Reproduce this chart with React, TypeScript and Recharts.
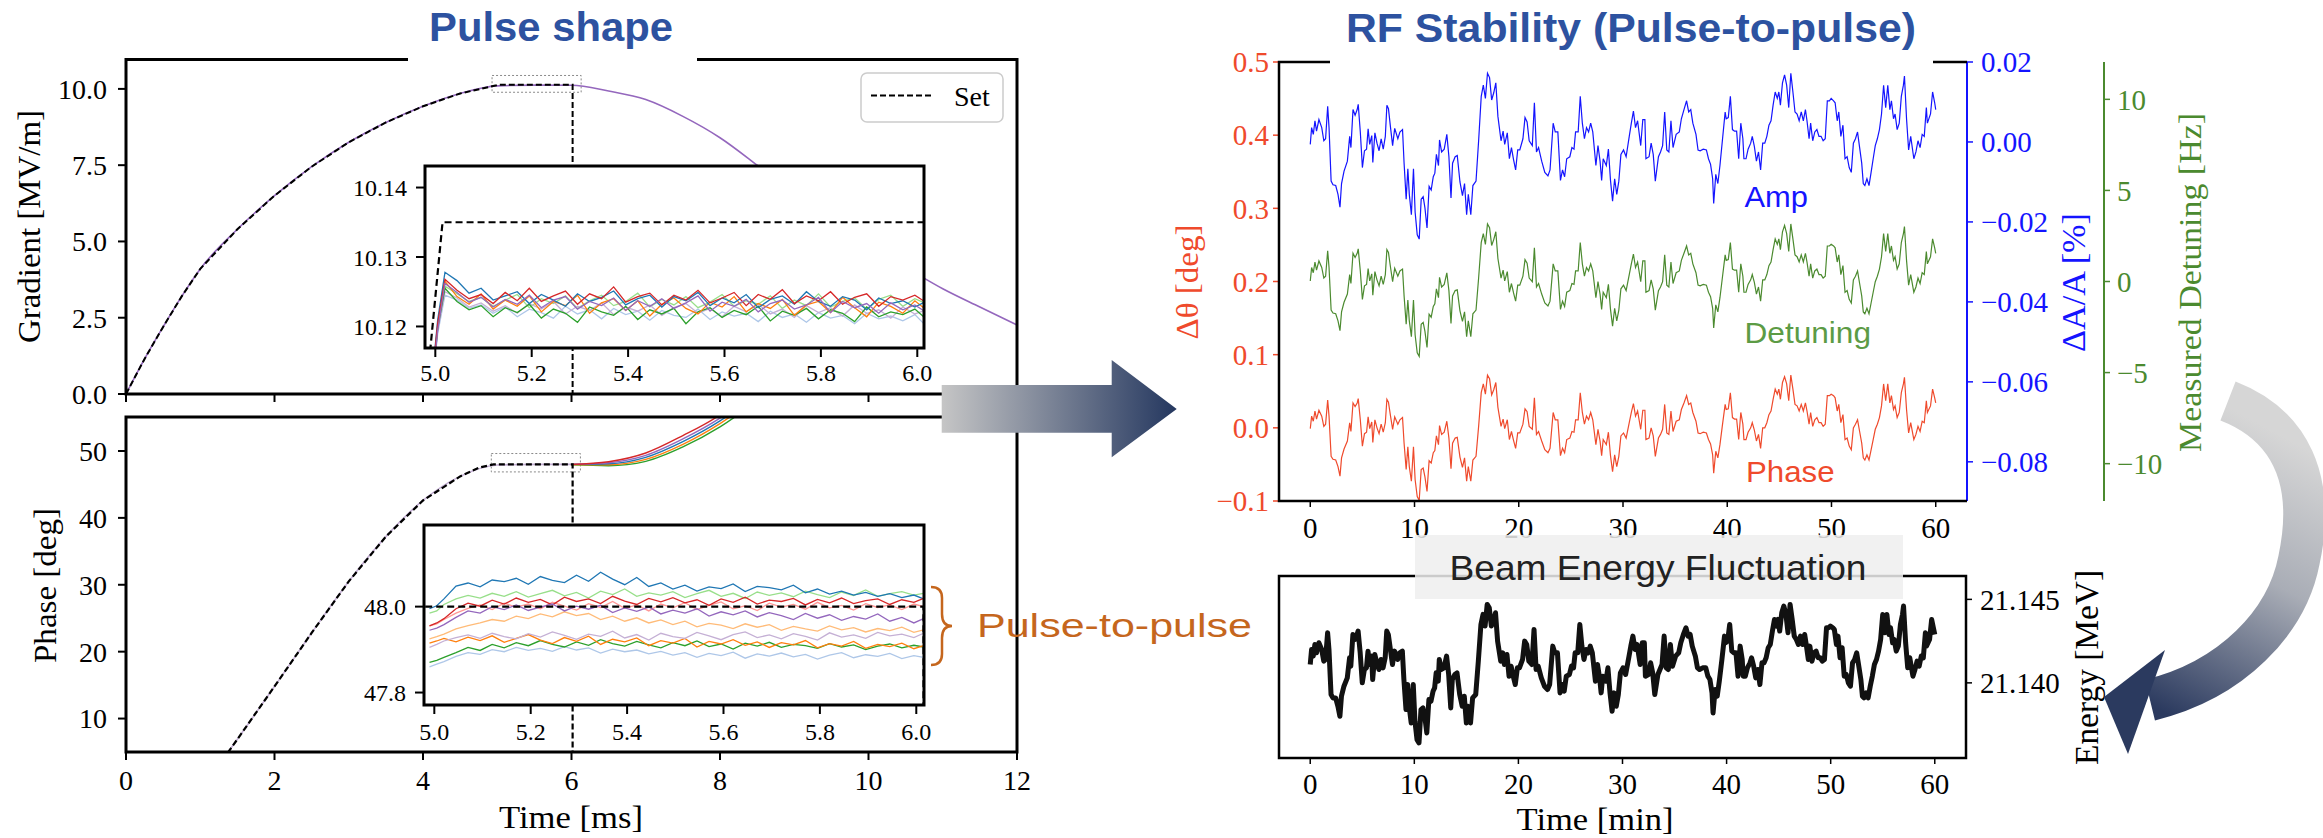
import React from "react";
import { LineChart, Line, XAxis, YAxis, ReferenceArea, CartesianGrid } from "recharts";

const SERIF = "'Liberation Serif', 'Times New Roman', serif";
const SANS = "'Liberation Sans', Arial, sans-serif";

// ---------- Pulse shape: main panels (time in ms) ----------
const msTicks = [0, 2, 4, 6, 8, 10, 12];
const gradTicks = [0, 2.5, 5, 7.5, 10];
const phaseTicks = [10, 20, 30, 40, 50];

const gradTime = [0, 0.25, 0.5, 0.75, 1, 1.5, 2, 2.5, 3, 3.5, 4, 4.5, 5, 5.5, 6, 6.5, 7, 7.5, 8, 8.5, 9, 9.5, 10, 10.5, 11, 11.5, 12];
const gradMeasured = [0, 1.15, 2.2, 3.2, 4.1, 5.4, 6.5, 7.45, 8.25, 8.9, 9.43, 9.85, 10.1, 10.123, 10.122, 9.93, 9.65, 9.1, 8.4, 7.5, 6.55, 5.65, 4.85, 4.15, 3.45, 2.85, 2.26];
const gradSetTime = [0, 0.25, 0.5, 0.75, 1, 1.5, 2, 2.5, 3, 3.5, 4, 4.5, 4.99, 5.015, 6.015, 6.015];
const gradSet = [0, 1.15, 2.2, 3.2, 4.1, 5.4, 6.5, 7.45, 8.25, 8.9, 9.43, 9.85, 10.117, 10.135, 10.135, 0];

const phaseTime = [1.3, 1.5, 2, 2.5, 3, 3.5, 4, 4.5, 5, 5.5, 6];
const phaseMeasured = [3.8, 6.9, 14.8, 22.8, 30.5, 37.2, 42.6, 46.2, 47.9, 48.0, 48.0];
const phaseSetTime = [1.3, 1.5, 2, 2.5, 3, 3.5, 4, 4.5, 4.75, 4.95, 6.015, 6.015];
const phaseSet = [3.8, 6.9, 14.8, 22.8, 30.5, 37.2, 42.6, 46.2, 47.5, 48.0, 48.0, 0];
const tailTime = [6, 6.5, 7, 7.5, 8, 8.5];
const tailRed = [48.0, 48.4, 49.7, 52.3, 55.4, 60];
const tailPurple = [48.0, 48.25, 49.35, 51.8, 54.9, 59];
const tailBlue = [48.0, 48.1, 49.05, 51.4, 54.5, 58.5];
const tailOrange = [47.97, 47.95, 48.75, 51.0, 54.1, 58];
const tailGreen = [47.92, 47.8, 48.45, 50.6, 53.6, 57.5];

// ---------- insets (5.0 - 6.0 ms) ----------
const insetTicks = [5.0, 5.2, 5.4, 5.6, 5.8, 6.0];
const insetTime = [4.99, 5.005, 5.02, 5.045, 5.07, 5.095, 5.12, 5.145, 5.17, 5.195,
  5.22, 5.245, 5.27, 5.295, 5.32, 5.345, 5.37, 5.395, 5.42, 5.445,
  5.47, 5.495, 5.52, 5.545, 5.57, 5.595, 5.62, 5.645, 5.67, 5.695,
  5.72, 5.745, 5.77, 5.795, 5.82, 5.845, 5.87, 5.895, 5.92, 5.945,
  5.97, 5.995, 6.015];

const gLightBlue = [10.109, 10.119, 10.1245, 10.1238, 10.1226, 10.1231, 10.1219, 10.1228, 10.1214, 10.1225,
  10.122, 10.1212, 10.1229, 10.1218, 10.1224, 10.1211, 10.1226, 10.1217, 10.1222, 10.1209,
  10.1223, 10.1216, 10.1213, 10.1225, 10.121, 10.1221, 10.1215, 10.1219, 10.1207, 10.1222,
  10.1213, 10.1218, 10.1206, 10.122, 10.1212, 10.1216, 10.1204, 10.1219, 10.1211, 10.1215,
  10.1208, 10.1217, 10.1203];
const gLightGreen = [10.11, 10.12, 10.1258, 10.1247, 10.1236, 10.1242, 10.1229, 10.1238, 10.1246, 10.1227,
  10.124, 10.1233, 10.1244, 10.1226, 10.1237, 10.1245, 10.123, 10.1236, 10.1248, 10.1228,
  10.1239, 10.1231, 10.1243, 10.1227, 10.1235, 10.1246, 10.1229, 10.1237, 10.1232, 10.1244,
  10.1226, 10.1238, 10.123, 10.1247, 10.1228, 10.1236, 10.1241, 10.1225, 10.1239, 10.1245,
  10.1229, 10.124, 10.1234];
const gLightPurple = [10.11, 10.1195, 10.125, 10.1241, 10.1228, 10.1234, 10.1222, 10.123, 10.1219, 10.1233,
  10.1225, 10.1236, 10.1218, 10.1229, 10.1223, 10.1234, 10.1217, 10.1228, 10.1222, 10.1231,
  10.1216, 10.1227, 10.1233, 10.1219, 10.1226, 10.1214, 10.1229, 10.1221, 10.1232, 10.1218,
  10.1225, 10.1213, 10.123, 10.122, 10.1227, 10.1215, 10.1231, 10.1219, 10.1224, 10.1212,
  10.1228, 10.1218, 10.1223];
const gGreen = [10.109, 10.1198, 10.1255, 10.1236, 10.1224, 10.123, 10.1214, 10.1227, 10.122, 10.1232,
  10.1212, 10.1225, 10.1219, 10.1206, 10.1228, 10.1221, 10.1216, 10.1229, 10.121, 10.1224,
  10.1218, 10.1226, 10.1204, 10.1221, 10.1227, 10.1213, 10.1223, 10.1217, 10.1229, 10.1208,
  10.1222, 10.1216, 10.1226, 10.1211, 10.1224, 10.1219, 10.1207, 10.1228, 10.1214, 10.1221,
  10.1217, 10.1225, 10.1213];
const gOrange = [10.11, 10.12, 10.1265, 10.1243, 10.1232, 10.1247, 10.1225, 10.1238, 10.1229, 10.1244,
  10.1221, 10.1236, 10.123, 10.1245, 10.1219, 10.1234, 10.124, 10.1223, 10.1237, 10.1215,
  10.1232, 10.1241, 10.1226, 10.1218, 10.1235, 10.1228, 10.1243, 10.1221, 10.1233, 10.1226,
  10.1239, 10.1216, 10.1231, 10.1236, 10.122, 10.1242, 10.1227, 10.1214, 10.1235, 10.1229,
  10.1219, 10.1237, 10.1226];
const gBlue = [10.11, 10.121, 10.1278, 10.1266, 10.1248, 10.1255, 10.1238, 10.1244, 10.125, 10.1233,
  10.1246, 10.1238, 10.1229, 10.1247, 10.1236, 10.1242, 10.1251, 10.1231, 10.124, 10.1245,
  10.1228, 10.1243, 10.1237, 10.1249, 10.123, 10.1241, 10.1234, 10.1246, 10.1227, 10.1239,
  10.1244, 10.1232, 10.125, 10.1236, 10.1229, 10.1243, 10.1238, 10.1224, 10.1241, 10.1233,
  10.1237, 10.1228, 10.1235];
const gRed = [10.11, 10.1205, 10.1268, 10.1252, 10.124, 10.1246, 10.1233, 10.1249, 10.1237, 10.1255,
  10.1236, 10.1244, 10.1251, 10.1232, 10.1247, 10.124, 10.1257, 10.1235, 10.1243, 10.1248,
  10.1231, 10.1245, 10.1238, 10.1252, 10.1234, 10.1241, 10.1249, 10.123, 10.1246, 10.1239,
  10.1253, 10.1233, 10.1244, 10.1237, 10.125, 10.1232, 10.1242, 10.1247, 10.1229, 10.1243,
  10.1238, 10.1245, 10.1236];
const gPurple = [10.109, 10.1195, 10.1262, 10.1249, 10.1235, 10.1242, 10.1228, 10.1239, 10.1232, 10.1245,
  10.1227, 10.1238, 10.1243, 10.1225, 10.1236, 10.123, 10.1241, 10.1223, 10.1237, 10.1229,
  10.124, 10.1226, 10.1234, 10.1244, 10.1222, 10.1235, 10.1229, 10.1239, 10.1221, 10.1233,
  10.1238, 10.1225, 10.1231, 10.1242, 10.122, 10.1236, 10.1227, 10.1233, 10.1219, 10.1234,
  10.1224, 10.1231, 10.1222];

const pBlue = [47.995, 48.002, 48.018, 48.048, 48.055, 48.046, 48.062, 48.058, 48.066, 48.052,
  48.07, 48.061, 48.056, 48.073, 48.059, 48.08, 48.064, 48.051, 48.068, 48.047,
  48.055, 48.041, 48.05, 48.036, 48.046, 48.042, 48.053, 48.035, 48.047, 48.044,
  48.039, 48.05, 48.032, 48.041, 48.029, 48.036, 48.027, 48.033, 48.024, 48.03,
  48.021, 48.027, 48.018];
const pLightGreen = [47.985, 47.99, 48.005, 48.018, 48.026, 48.02, 48.031, 48.024, 48.035, 48.022,
  48.03, 48.038, 48.025, 48.033, 48.02, 48.036, 48.028, 48.041, 48.024, 48.032,
  48.027, 48.035, 48.021, 48.03, 48.038, 48.024, 48.031, 48.019, 48.034, 48.026,
  48.032, 48.023, 48.036, 48.028, 48.021, 48.034, 48.026, 48.039, 48.024, 48.03,
  48.035, 48.027, 48.031];
const pRed = [47.955, 47.962, 47.972, 47.995, 48.008, 48.001, 48.015, 48.006, 48.02, 48.01,
  48.017, 48.004, 48.022, 48.012, 48.018, 48.007, 48.024, 48.013, 48.005, 48.019,
  48.011, 48.021, 48.009, 48.016, 48.003, 48.018, 48.01, 48.022, 48.006, 48.015,
  48.012, 48.019, 48.004, 48.017, 48.009, 48.02, 48.007, 48.014, 48.018, 48.005,
  48.016, 48.01, 48.019];
const pPink = [47.955, 47.96, 47.97, 47.985, 47.996, 48.004, 47.993, 48.008, 47.999, 48.006,
  47.995, 48.01, 48.001, 47.992, 48.007, 47.998, 48.012, 47.996, 48.004, 47.99,
  48.006, 47.997, 48.009, 47.993, 48.003, 48.011, 47.995, 48.002, 47.991, 48.008,
  47.999, 48.005, 47.994, 48.01, 47.997, 48.003, 47.992, 48.007, 47.998, 48.004,
  47.993, 48.006, 48.0];
const pPurple = [47.945, 47.95, 47.958, 47.975, 47.99, 47.985, 48.0, 47.993, 48.004, 47.991,
  47.999, 48.006, 47.99, 48.001, 47.994, 48.003, 47.986, 47.997, 47.989, 47.999,
  47.983, 47.992, 47.985, 47.995, 47.978, 47.988, 47.981, 47.99, 47.976, 47.986,
  47.979, 47.97, 47.984, 47.973, 47.981, 47.968, 47.977, 47.971, 47.983, 47.966,
  47.975, 47.962, 47.972];
const pLightOrange = [47.925, 47.93, 47.936, 47.948, 47.956, 47.962, 47.97, 47.966, 47.978, 47.972,
  47.983, 47.976, 47.988, 47.979, 47.984, 47.97, 47.978, 47.966, 47.974, 47.962,
  47.969, 47.958, 47.966, 47.953, 47.961, 47.957, 47.949, 47.96, 47.952, 47.958,
  47.945, 47.954, 47.948, 47.943, 47.955, 47.946, 47.951, 47.941, 47.949, 47.944,
  47.952, 47.94, 47.946];
const pLightPurple = [47.905, 47.912, 47.92, 47.928, 47.934, 47.926, 47.938, 47.93, 47.925, 47.937,
  47.929, 47.941, 47.933, 47.924, 47.936, 47.931, 47.943, 47.927, 47.935, 47.922,
  47.938, 47.93, 47.926, 47.94, 47.932, 47.923, 47.935, 47.941, 47.928, 47.934,
  47.925, 47.937, 47.931, 47.922, 47.939, 47.929, 47.934, 47.926, 47.94, 47.932,
  47.936, 47.928, 47.938];
const pOrange = [47.915, 47.92, 47.926, 47.918, 47.929, 47.921, 47.932, 47.917, 47.926, 47.935,
  47.922, 47.914, 47.928, 47.919, 47.931, 47.912, 47.924, 47.918, 47.927, 47.909,
  47.921, 47.915, 47.926, 47.906, 47.919, 47.913, 47.923, 47.91, 47.918, 47.905,
  47.916, 47.911, 47.921, 47.904, 47.914, 47.908, 47.919, 47.903, 47.912, 47.907,
  47.915, 47.902, 47.909];
const pGreen = [47.87, 47.875, 47.882, 47.893, 47.905, 47.898, 47.912, 47.904, 47.916, 47.909,
  47.921, 47.912, 47.906, 47.918, 47.91, 47.923, 47.914, 47.908, 47.919, 47.911,
  47.904, 47.916, 47.909, 47.92, 47.907, 47.913, 47.901, 47.915, 47.908, 47.917,
  47.905, 47.912, 47.909, 47.903, 47.914, 47.906, 47.911, 47.9, 47.908, 47.913,
  47.904, 47.91, 47.906];
const pLightBlue = [47.86, 47.866, 47.872, 47.884, 47.893, 47.889, 47.9, 47.895, 47.905, 47.898,
  47.903, 47.896, 47.907, 47.899, 47.904, 47.892, 47.901, 47.895, 47.899, 47.89,
  47.896, 47.887, 47.893, 47.882, 47.891, 47.886, 47.894, 47.88, 47.89, 47.885,
  47.892, 47.883, 47.889, 47.878, 47.887, 47.893, 47.881, 47.888, 47.884, 47.891,
  47.879, 47.886, 47.882];

// ---------- RF stability (time in min) ----------
const minTicks = [0, 10, 20, 30, 40, 50, 60];
const dthetaTicks = [-0.1, 0, 0.1, 0.2, 0.3, 0.4, 0.5];
const ampTicks = [-0.08, -0.06, -0.04, -0.02, 0, 0.02];
const detTicks = [-10, -5, 0, 5, 10];
const energyTicks = [21.14, 21.145];

const rfTime = [0, 0.13, 0.29, 0.45, 0.6, 0.83, 1.1, 1.3, 1.47, 1.67,
  1.8, 2.0, 2.18, 2.44, 2.66, 2.85, 3.0, 3.24, 3.56, 3.78,
  3.9, 4.1, 4.3, 4.5, 4.6, 4.8, 5.0, 5.2, 5.4, 5.55,
  5.7, 5.9, 6.0, 6.2, 6.4, 6.6, 6.8, 7.0, 7.2, 7.35,
  7.5, 7.7, 7.9, 8.1, 8.4, 8.6, 8.85, 9.0, 9.2, 9.36,
  9.5, 9.7, 9.9, 10.06, 10.26, 10.45, 10.64, 10.83, 11.0, 11.2,
  11.4, 11.6, 11.8, 11.95, 12.1, 12.3, 12.4, 12.6, 12.85, 13.1,
  13.3, 13.5, 13.65, 13.9, 14.1, 14.36, 14.6, 14.8, 15.0, 15.16,
  15.4, 15.6, 15.9, 16.15, 16.4, 16.6, 16.8, 17.0, 17.2, 17.4,
  17.6, 17.8, 18.0, 18.3, 18.5, 18.65, 18.9, 19.1, 19.3, 19.5,
  19.7, 19.9, 20.1, 20.4, 20.6, 20.8, 21.0, 21.3, 21.5, 21.7,
  21.9, 22.2, 22.5, 22.8, 23.0, 23.3, 23.5, 23.75, 24.0, 24.2,
  24.4, 24.6, 24.9, 25.1, 25.3, 25.45, 25.7, 25.9, 26.1, 26.3,
  26.5, 26.7, 26.9, 27.1, 27.4, 27.6, 27.8, 27.95, 28.1, 28.4,
  28.6, 28.8, 29.0, 29.2, 29.4, 29.6, 29.8, 30.05, 30.3, 30.6,
  30.8, 31.0, 31.2, 31.4, 31.7, 31.9, 32.1, 32.2, 32.5, 32.7,
  32.9, 33.1, 33.4, 33.6, 33.8, 34.0, 34.2, 34.4, 34.6, 34.8,
  35.1, 35.4, 35.6, 35.85, 36.1, 36.3, 36.5, 36.7, 37.0, 37.2,
  37.4, 37.7, 38.0, 38.2, 38.4, 38.6, 38.7, 38.9, 39.1, 39.3,
  39.55, 39.8, 39.9, 40.1, 40.3, 40.5, 40.7, 40.9, 41.1, 41.3,
  41.5, 41.6, 41.8, 42.0, 42.25, 42.4, 42.6, 42.8, 43.0, 43.2,
  43.4, 43.6, 43.8, 44.0, 44.2, 44.4, 44.6, 44.8, 44.95, 45.1,
  45.3, 45.5, 45.7, 45.9, 46.1, 46.3, 46.5, 46.7, 46.9, 47.1,
  47.3, 47.5, 47.65, 47.85, 48.0, 48.2, 48.4, 48.6, 48.8, 49.0,
  49.2, 49.4, 49.6, 49.8, 49.97, 50.2, 50.35, 50.55, 50.7, 50.9,
  51.1, 51.3, 51.5, 51.7, 51.9, 52.1, 52.3, 52.5, 52.7, 52.9,
  53.05, 53.2, 53.4, 53.6, 53.8, 54.0, 54.2, 54.4, 54.6, 54.8,
  55.0, 55.2, 55.4, 55.6, 55.75, 55.95, 56.1, 56.3, 56.5, 56.7,
  56.9, 57.0, 57.2, 57.4, 57.6, 57.9, 58.1, 58.3, 58.5, 58.7,
  58.9, 59.1, 59.2, 59.5, 59.7, 59.9, 60.0];

const rfPhase = [-0.001, 0.016, 0.009, 0.023, 0.012, 0.024, 0.016, 0.002, 0.005, 0.038,
  0.016, -0.039, -0.043, -0.044, -0.053, -0.066, -0.041, -0.029, -0.018, 0.007,
  -0.005, 0.034, 0.029, 0.034, 0.04, 0.011, -0.025, -0.008, -0.006, 0.015,
  -0.001, 0.008, -0.02, 0.011, 0.0, -0.008, 0.005, -0.006, 0.007, 0.039,
  0.035, 0.016, -0.002, 0.015, 0.005, 0.011, 0.014, -0.021, -0.057, -0.026,
  -0.053, -0.073, -0.026, -0.071, -0.094, -0.099, -0.057, -0.055, -0.067, -0.087,
  -0.045, -0.048, -0.034, -0.031, -0.011, -0.023, 0.003, -0.009, -0.006, 0.009,
  -0.014, -0.056, -0.021, -0.014, -0.013, -0.04, -0.054, -0.041, -0.073, -0.053,
  -0.073, -0.044, -0.039, 0.002, 0.048, 0.06, 0.046, 0.072, 0.067, 0.045,
  0.052, 0.062, 0.028, 0.002, 0.012, -0.001, 0.011, -0.016, -0.005, -0.017,
  -0.028, -0.007, -0.007, 0.005, 0.026, 0.022, 0.002, -0.002, 0.041, -0.009,
  -0.005, -0.018, -0.03, -0.034, -0.028, 0.021, 0.011, 0.011, -0.038, -0.028,
  -0.034, -0.016, -0.014, -0.005, -0.006, 0.011, 0.011, 0.048, 0.021, 0.005,
  0.016, 0.011, 0.021, 0.011, -0.023, -0.002, -0.018, -0.038, -0.016, -0.023,
  -0.006, -0.038, -0.06, -0.037, -0.053, -0.039, -0.011, -0.007, -0.014, 0.007,
  0.021, 0.033, 0.016, 0.023, -0.002, 0.024, 0.024, -0.016, -0.014, 0.0,
  -0.011, -0.039, -0.014, -0.009, -0.002, 0.032, -0.007, -0.009, 0.023, -0.005,
  0.009, 0.011, 0.025, 0.034, 0.044, 0.032, 0.034, 0.021, 0.009, -0.007,
  -0.008, -0.006, -0.007, -0.016, -0.022, -0.037, -0.062, -0.032, -0.041, -0.023,
  0.005, 0.032, 0.025, 0.026, 0.048, 0.014, 0.012, 0.012, -0.016, 0.021,
  0.005, -0.016, -0.016, -0.006, 0.0, 0.007, -0.003, -0.018, -0.009, -0.028,
  0.0, 0.0, 0.007, 0.018, 0.023, 0.039, 0.053, 0.046, 0.053, 0.039,
  0.062, 0.07, 0.06, 0.037, 0.072, 0.053, 0.032, 0.03, 0.023, 0.032,
  0.023, 0.034, 0.023, 0.005, 0.021, 0.002, 0.011, 0.014, 0.007, 0.007,
  0.002, 0.005, 0.044, 0.044, 0.046, 0.044, 0.041, 0.023, 0.032, 0.007,
  0.018, -0.016, -0.014, -0.025, -0.03, 0.0, 0.005, 0.011, -0.005, -0.021,
  -0.041, -0.044, -0.037, -0.044, -0.03, -0.016, -0.002, 0.005, 0.014, 0.03,
  0.06, 0.037, 0.06, 0.034, 0.044, 0.025, 0.03, 0.014, 0.021, 0.048,
  0.06, 0.069, 0.025, -0.007, 0.007, -0.016, -0.009, 0.002, -0.005, 0.009,
  0.007, 0.037, 0.021, 0.03, 0.053, 0.041, 0.034];

const rfAmp = [-0.0006, 0.0036, 0.0019, 0.0053, 0.0027, 0.0056, 0.0036, 0.0003, 0.0008, 0.0089,
  0.0036, -0.0098, -0.0107, -0.0109, -0.0131, -0.0163, -0.0104, -0.0073, -0.0048, 0.0014,
  -0.0014, 0.0081, 0.0067, 0.0081, 0.0094, 0.0025, -0.0064, -0.0022, -0.0018, 0.0033,
  -0.0006, 0.0016, -0.0051, 0.0023, -0.0003, -0.0022, 0.0008, -0.0018, 0.0014, 0.0092,
  0.0083, 0.0036, -0.0009, 0.0034, 0.0008, 0.0025, 0.0031, -0.0053, -0.0143, -0.0067,
  -0.0131, -0.0182, -0.0067, -0.0176, -0.0232, -0.0243, -0.0143, -0.0137, -0.0165, -0.0215,
  -0.0111, -0.012, -0.0087, -0.0078, -0.0031, -0.0059, 0.0005, -0.0025, -0.0018, 0.0019,
  -0.0037, -0.014, -0.0053, -0.0037, -0.0034, -0.01, -0.0134, -0.0104, -0.0182, -0.0131,
  -0.0182, -0.0109, -0.0098, 0.0003, 0.0114, 0.0142, 0.0109, 0.0172, 0.0161, 0.0105,
  0.0123, 0.0148, 0.0064, 0.0003, 0.0027, -0.0006, 0.0023, -0.0042, -0.0014, -0.0044,
  -0.007, -0.002, -0.002, 0.0008, 0.0061, 0.005, 0.0003, -0.0009, 0.0098, -0.0025,
  -0.0014, -0.0048, -0.0076, -0.0085, -0.007, 0.0047, 0.0025, 0.0025, -0.0096, -0.007,
  -0.0087, -0.0042, -0.0037, -0.0014, -0.0018, 0.0025, 0.0025, 0.0114, 0.0047, 0.0008,
  0.0036, 0.0025, 0.0047, 0.0025, -0.0059, -0.0009, -0.0048, -0.0096, -0.0042, -0.0059,
  -0.0018, -0.0096, -0.0148, -0.0092, -0.0131, -0.0098, -0.0031, -0.002, -0.0037, 0.0014,
  0.0047, 0.0077, 0.0036, 0.0053, -0.0009, 0.0056, 0.0056, -0.0042, -0.0037, -0.0003,
  -0.0031, -0.0098, -0.0037, -0.0025, -0.0009, 0.0075, -0.002, -0.0025, 0.0053, -0.0014,
  0.0019, 0.0025, 0.0058, 0.0081, 0.0103, 0.0075, 0.0081, 0.0047, 0.0019, -0.002,
  -0.0022, -0.0018, -0.002, -0.0042, -0.0056, -0.0092, -0.0154, -0.0081, -0.0104, -0.0059,
  0.0008, 0.0075, 0.0058, 0.0061, 0.0114, 0.0031, 0.0027, 0.0027, -0.0042, 0.0047,
  0.0008, -0.0042, -0.0042, -0.0018, -0.0003, 0.0014, -0.0011, -0.0048, -0.0025, -0.007,
  -0.0003, -0.0003, 0.0014, 0.0042, 0.0053, 0.0092, 0.0125, 0.0109, 0.0125, 0.0092,
  0.0148, 0.0168, 0.0142, 0.0086, 0.0172, 0.0125, 0.0075, 0.007, 0.0053, 0.0075,
  0.0053, 0.0081, 0.0053, 0.0008, 0.0047, 0.0003, 0.0025, 0.0031, 0.0014, 0.0014,
  0.0003, 0.0008, 0.0103, 0.0103, 0.0109, 0.0103, 0.0098, 0.0053, 0.0075, 0.0014,
  0.0042, -0.0042, -0.0037, -0.0064, -0.0076, -0.0003, 0.0008, 0.0025, -0.0014, -0.0053,
  -0.0104, -0.0109, -0.0092, -0.0109, -0.0076, -0.0042, -0.0009, 0.0008, 0.0031, 0.007,
  0.0142, 0.0086, 0.0142, 0.0081, 0.0103, 0.0058, 0.007, 0.0031, 0.0047, 0.0114,
  0.0142, 0.0165, 0.0058, -0.002, 0.0014, -0.0042, -0.0025, 0.0003, -0.0014, 0.0019,
  0.0014, 0.0086, 0.0047, 0.007, 0.0125, 0.0098, 0.0081];

const rfDetuning = [0.03, 0.77, 0.48, 1.07, 0.62, 1.13, 0.77, 0.19, 0.29, 1.69,
  0.77, -1.57, -1.73, -1.77, -2.16, -2.7, -1.67, -1.14, -0.69, 0.38,
  -0.11, 1.55, 1.32, 1.55, 1.79, 0.58, -0.98, -0.24, -0.16, 0.71,
  0.03, 0.42, -0.75, 0.54, 0.09, -0.24, 0.29, -0.16, 0.38, 1.75,
  1.59, 0.77, -0.01, 0.73, 0.29, 0.58, 0.68, -0.79, -2.35, -1.02,
  -2.16, -3.03, -1.02, -2.94, -3.91, -4.11, -2.35, -2.25, -2.74, -3.62,
  -1.8, -1.96, -1.37, -1.22, -0.4, -0.89, 0.23, -0.3, -0.16, 0.48,
  -0.5, -2.31, -0.79, -0.5, -0.46, -1.61, -2.19, -1.67, -3.03, -2.16,
  -3.03, -1.77, -1.57, 0.19, 2.14, 2.63, 2.04, 3.16, 2.96, 1.98,
  2.3, 2.73, 1.26, 0.19, 0.62, 0.03, 0.54, -0.59, -0.11, -0.63,
  -1.08, -0.2, -0.2, 0.29, 1.2, 1.01, 0.19, -0.01, 1.85, -0.3,
  -0.11, -0.69, -1.18, -1.34, -1.08, 0.97, 0.58, 0.58, -1.53, -1.08,
  -1.37, -0.59, -0.5, -0.11, -0.16, 0.58, 0.58, 2.14, 0.97, 0.29,
  0.77, 0.58, 0.97, 0.58, -0.89, -0.01, -0.69, -1.53, -0.59, -0.89,
  -0.16, -1.53, -2.45, -1.47, -2.16, -1.57, -0.4, -0.2, -0.5, 0.38,
  0.97, 1.5, 0.77, 1.07, -0.01, 1.13, 1.13, -0.59, -0.5, 0.09,
  -0.4, -1.57, -0.5, -0.3, -0.01, 1.46, -0.2, -0.3, 1.07, -0.11,
  0.48, 0.58, 1.16, 1.55, 1.95, 1.46, 1.55, 0.97, 0.48, -0.2,
  -0.24, -0.16, -0.2, -0.59, -0.83, -1.47, -2.55, -1.28, -1.67, -0.89,
  0.29, 1.46, 1.16, 1.2, 2.14, 0.68, 0.62, 0.62, -0.59, 0.97,
  0.29, -0.59, -0.59, -0.16, 0.09, 0.38, -0.05, -0.69, -0.3, -1.08,
  0.09, 0.09, 0.38, 0.87, 1.07, 1.75, 2.34, 2.04, 2.34, 1.75,
  2.73, 3.08, 2.63, 1.65, 3.16, 2.34, 1.46, 1.36, 1.07, 1.46,
  1.07, 1.55, 1.07, 0.29, 0.97, 0.19, 0.58, 0.68, 0.38, 0.38,
  0.19, 0.29, 1.95, 1.95, 2.04, 1.95, 1.85, 1.07, 1.46, 0.38,
  0.87, -0.59, -0.5, -0.98, -1.18, 0.09, 0.29, 0.58, -0.11, -0.79,
  -1.67, -1.77, -1.47, -1.77, -1.18, -0.59, -0.01, 0.29, 0.68, 1.36,
  2.63, 1.65, 2.63, 1.55, 1.95, 1.16, 1.36, 0.68, 0.97, 2.14,
  2.63, 3.02, 1.16, -0.2, 0.38, -0.59, -0.3, 0.19, -0.11, 0.48,
  0.38, 1.65, 0.97, 1.36, 2.34, 1.85, 1.55];

const beamEnergy = [21.1411, 21.142, 21.1416, 21.1423, 21.1418, 21.1424, 21.142, 21.1413, 21.1414, 21.143,
  21.142, 21.1393, 21.1391, 21.1391, 21.1386, 21.138, 21.1392, 21.1398, 21.1403, 21.1415,
  21.141, 21.1429, 21.1426, 21.1429, 21.1431, 21.1418, 21.14, 21.1408, 21.1409, 21.1419,
  21.1411, 21.1416, 21.1402, 21.1417, 21.1412, 21.1408, 21.1414, 21.1409, 21.1415, 21.1431,
  21.1429, 21.142, 21.1411, 21.1419, 21.1414, 21.1418, 21.1419, 21.1402, 21.1384, 21.1399,
  21.1386, 21.1376, 21.1399, 21.1377, 21.1366, 21.1364, 21.1384, 21.1385, 21.138, 21.137,
  21.139, 21.1389, 21.1395, 21.1397, 21.1406, 21.1401, 21.1414, 21.1408, 21.1409, 21.1416,
  21.1405, 21.1385, 21.1402, 21.1405, 21.1406, 21.1393, 21.1386, 21.1392, 21.1376, 21.1386,
  21.1376, 21.1391, 21.1393, 21.1413, 21.1435, 21.1441, 21.1434, 21.1447, 21.1445, 21.1434,
  21.1437, 21.1442, 21.1425, 21.1413, 21.1418, 21.1411, 21.1417, 21.1404, 21.141, 21.1404,
  21.1399, 21.1409, 21.1409, 21.1414, 21.1425, 21.1423, 21.1413, 21.1411, 21.1432, 21.1408,
  21.141, 21.1403, 21.1398, 21.1396, 21.1399, 21.1422, 21.1418, 21.1418, 21.1394, 21.1399,
  21.1395, 21.1404, 21.1405, 21.141, 21.1409, 21.1418, 21.1418, 21.1435, 21.1422, 21.1414,
  21.142, 21.1418, 21.1422, 21.1418, 21.1401, 21.1411, 21.1403, 21.1394, 21.1404, 21.1401,
  21.1409, 21.1394, 21.1383, 21.1394, 21.1386, 21.1393, 21.1406, 21.1409, 21.1405, 21.1415,
  21.1422, 21.1428, 21.142, 21.1423, 21.1411, 21.1424, 21.1424, 21.1404, 21.1405, 21.1412,
  21.1406, 21.1393, 21.1405, 21.1408, 21.1411, 21.1428, 21.1409, 21.1408, 21.1423, 21.141,
  21.1416, 21.1418, 21.1424, 21.1429, 21.1433, 21.1428, 21.1429, 21.1422, 21.1416, 21.1409,
  21.1408, 21.1409, 21.1409, 21.1404, 21.1402, 21.1394, 21.1382, 21.1396, 21.1392, 21.1401,
  21.1414, 21.1428, 21.1424, 21.1425, 21.1435, 21.1419, 21.1418, 21.1418, 21.1404, 21.1422,
  21.1414, 21.1404, 21.1404, 21.1409, 21.1412, 21.1415, 21.141, 21.1403, 21.1408, 21.1399,
  21.1412, 21.1412, 21.1415, 21.1421, 21.1423, 21.1431, 21.1438, 21.1434, 21.1438, 21.1431,
  21.1442, 21.1446, 21.1441, 21.143, 21.1447, 21.1438, 21.1428, 21.1426, 21.1423, 21.1428,
  21.1423, 21.1429, 21.1423, 21.1414, 21.1422, 21.1413, 21.1418, 21.1419, 21.1415, 21.1415,
  21.1413, 21.1414, 21.1433, 21.1433, 21.1434, 21.1433, 21.1432, 21.1423, 21.1428, 21.1415,
  21.1421, 21.1404, 21.1405, 21.14, 21.1398, 21.1412, 21.1414, 21.1418, 21.141, 21.1402,
  21.1392, 21.1391, 21.1394, 21.1391, 21.1398, 21.1404, 21.1411, 21.1414, 21.1419, 21.1426,
  21.1441, 21.143, 21.1441, 21.1429, 21.1433, 21.1424, 21.1426, 21.1419, 21.1422, 21.1435,
  21.1441, 21.1446, 21.1424, 21.1409, 21.1415, 21.1404, 21.1408, 21.1413, 21.141, 21.1416,
  21.1415, 21.143, 21.1422, 21.1426, 21.1438, 21.1432, 21.1429];

// ---------- helpers ----------
const pts = (xs: number[], ys: number[]) => xs.map((t, i) => ({ t, v: ys[i] }));
const fmt = (d: number) => (v: number) => (v < 0 ? "\u2212" : "") + Math.abs(v).toFixed(d);

// tick label rendered as serif text (matplotlib Times look)
const serifTick = (size: number, fill: string, f: (v: number) => string, dy: string) => (props: any) => (
  <text x={props.x} y={props.y} dy={dy} textAnchor={props.textAnchor} fill={fill} fontSize={size} fontFamily={SERIF}>
    {f(props.payload.value)}
  </text>
);
const noTick = () => <g />;

const RED = "#ef4a2c";
const BLUE = "#1414ff";
const GREEN = "#4b8a2f";
const TITLE = "#2d52a0";

const rfRows = rfTime.map((t, i) => ({
  t,
  phase: rfPhase[i],
  amp: rfAmp[i],
  det: rfDetuning[i],
  energy: beamEnergy[i],
}));

const gInsetSeries: [number[], string][] = [
  [gLightBlue, "#aec7e8"], [gLightGreen, "#98df8a"], [gLightPurple, "#c5b0d5"], [gGreen, "#2ca02c"],
  [gOrange, "#ff7f0e"], [gBlue, "#1f77b4"], [gRed, "#d62728"], [gPurple, "#9467bd"],
];
const pInsetSeries: [number[], string][] = [
  [pLightBlue, "#aec7e8"], [pGreen, "#2ca02c"], [pOrange, "#ff7f0e"], [pLightPurple, "#c5b0d5"],
  [pLightOrange, "#ffbb78"], [pPink, "#ff9896"], [pLightGreen, "#98df8a"], [pBlue, "#1f77b4"],
  [pRed, "#d62728"], [pPurple, "#9467bd"],
];
const tails: [number[], string][] = [
  [tailGreen, "#2ca02c"], [tailOrange, "#ff7f0e"], [tailBlue, "#1f77b4"], [tailPurple, "#9467bd"], [tailRed, "#d62728"],
];

const blackTick = { stroke: "#000", strokeWidth: 2 };

function Inset({ left, top, height, yDomain, yTicks, yDigits, series, setX, setY, xLabelMargin }: any) {
  return (
    <div style={{ position: "absolute", left, top }}>
      <LineChart width={590} height={height} margin={{ top: 10, right: 10, bottom: 0, left: 0 }}>
        <CartesianGrid fill="#fff" fillOpacity={1} horizontal={false} vertical={false} />
        <XAxis type="number" dataKey="t" domain={[4.9786, 6.016]} ticks={insetTicks} allowDataOverflow interval={0}
          height={45} axisLine={false} tickSize={9} tickMargin={xLabelMargin} tickLine={blackTick}
          tick={serifTick(24, "#000", fmt(1), "0.71em")} />
        <YAxis type="number" domain={yDomain} ticks={yTicks} allowDataOverflow interval={0} width={80}
          axisLine={false} tickSize={9} tickMargin={9} tickLine={blackTick}
          tick={serifTick(24, "#000", fmt(yDigits), "0.355em")} />
        {series.map(([ys, c]: [number[], string], i: number) => (
          <Line key={i} data={pts(insetTime, ys)} dataKey="v" type="linear" stroke={c} strokeWidth={1.3}
            dot={false} isAnimationActive={false} />
        ))}
        <Line data={pts(setX, setY)} dataKey="v" type="linear" stroke="#000" strokeWidth={2.2} strokeDasharray="7 4"
          dot={false} isAnimationActive={false} />
      </LineChart>
    </div>
  );
}

function VText({ x, y, len, size, fill = "#000", children, family = SERIF }: any) {
  return (
    <text transform={`translate(${x},${y}) rotate(-90)`} textAnchor="middle" dominantBaseline="central"
      fontSize={size} fontFamily={family} fill={fill} textLength={len} lengthAdjust="spacingAndGlyphs">
      {children}
    </text>
  );
}

export default function App() {
  return (
    <div style={{ position: "absolute", left: 0, top: 0, width: 2323, height: 838, background: "#fff", overflow: "hidden" }}>
      {/* Gradient, main */}
      <div style={{ position: "absolute", left: 0, top: 0 }}>
        <LineChart width={1037} height={434} margin={{ top: 59, right: 20, bottom: 0, left: 0 }}>
          <XAxis type="number" dataKey="t" domain={[0, 12]} ticks={msTicks} allowDataOverflow interval={0} height={40}
            axisLine={false} tickSize={8} tickLine={blackTick} tick={noTick} />
          <YAxis type="number" domain={[0, 10.98]} ticks={gradTicks} allowDataOverflow interval={0} width={126}
            axisLine={false} tickSize={8} tickMargin={11} tickLine={blackTick}
            tick={serifTick(28, "#000", fmt(1), "0.355em")} />
          <ReferenceArea x1={4.93} x2={6.13} y1={9.89} y2={10.44} stroke="#8a8a8a" strokeDasharray="2 2" fill="none" />
          <Line data={pts(gradTime, gradMeasured)} dataKey="v" type="monotone" stroke="#9467bd" strokeWidth={1.6}
            dot={false} isAnimationActive={false} />
          <Line data={pts(gradSetTime, gradSet)} dataKey="v" type="linear" stroke="#000" strokeWidth={2}
            strokeDasharray="6 3" dot={false} isAnimationActive={false} />
        </LineChart>
      </div>

      {/* Phase, main */}
      <div style={{ position: "absolute", left: 0, top: 377 }}>
        <LineChart width={1037} height={435} margin={{ top: 40, right: 20, bottom: 0, left: 0 }}>
          <XAxis type="number" dataKey="t" domain={[0, 12]} ticks={msTicks} allowDataOverflow interval={0} height={60}
            axisLine={false} tickSize={8} tickMargin={10} tickLine={blackTick}
            tick={serifTick(28, "#000", fmt(0), "0.71em")} />
          <YAxis type="number" domain={[5, 55.08]} ticks={phaseTicks} allowDataOverflow interval={0} width={126}
            axisLine={false} tickSize={8} tickMargin={11} tickLine={blackTick}
            tick={serifTick(28, "#000", fmt(0), "0.355em")} />
          <ReferenceArea x1={4.92} x2={6.12} y1={46.87} y2={49.62} stroke="#8a8a8a" strokeDasharray="2 2" fill="none" />
          {tails.map(([ys, c], i) => (
            <Line key={i} data={pts(tailTime, ys)} dataKey="v" type="monotone" stroke={c} strokeWidth={1.4}
              dot={false} isAnimationActive={false} />
          ))}
          <Line data={pts(phaseTime, phaseMeasured)} dataKey="v" type="monotone" stroke="#c5b0d5" strokeWidth={1.6}
            dot={false} isAnimationActive={false} />
          <Line data={pts(phaseSetTime, phaseSet)} dataKey="v" type="linear" stroke="#000" strokeWidth={2.2}
            strokeDasharray="6 3" dot={false} isAnimationActive={false} />
        </LineChart>
      </div>

      <Inset left={345} top={156} height={237} yDomain={[10.1169, 10.1431]} yTicks={[10.12, 10.13, 10.14]} yDigits={2}
        series={gInsetSeries} setX={gradSetTime} setY={gradSet} xLabelMargin={7} />
      <Inset left={344} top={515} height={235} yDomain={[47.771, 48.19]} yTicks={[47.8, 48.0]} yDigits={1}
        series={pInsetSeries} setX={phaseSetTime} setY={phaseSet} xLabelMargin={9} />

      {/* RF stability */}
      <div style={{ position: "absolute", left: 1179, top: 0 }}>
        <LineChart width={1025} height={551} data={rfRows} margin={{ top: 62, right: 0, bottom: 0, left: 0 }}>
          <XAxis type="number" dataKey="t" domain={[-3, 63]} ticks={minTicks} allowDataOverflow interval={0} height={50}
            axisLine={false} tickSize={6} tickMargin={10} tickLine={{ stroke: "#000", strokeWidth: 1.5 }}
            tick={serifTick(29, "#000", fmt(0), "0.71em")} />
          <YAxis yAxisId="ph" orientation="left" type="number" domain={[-0.1, 0.5]} ticks={dthetaTicks} allowDataOverflow
            interval={0} width={100} axisLine={false} tickSize={6} tickMargin={4}
            tickLine={{ stroke: RED, strokeWidth: 1.5 }} tick={serifTick(29, RED, fmt(1), "0.355em")} />
          <YAxis yAxisId="amp" orientation="right" type="number" domain={[-0.0898, 0.02]} ticks={ampTicks} allowDataOverflow
            interval={0} width={137} axisLine={{ stroke: BLUE, strokeWidth: 2 }} tickSize={6} tickMargin={8}
            tickLine={{ stroke: BLUE, strokeWidth: 1.5 }} tick={serifTick(29, BLUE, fmt(2), "0.355em")} />
          <YAxis yAxisId="det" orientation="right" type="number" domain={[-12.05, 12.05]} ticks={detTicks} allowDataOverflow
            interval={0} width={100} axisLine={{ stroke: GREEN, strokeWidth: 2 }} tickSize={6} tickMargin={7}
            tickLine={{ stroke: GREEN, strokeWidth: 1.5 }} tick={serifTick(29, GREEN, fmt(0), "0.355em")} />
          <Line yAxisId="amp" dataKey="amp" type="linear" stroke={BLUE} strokeWidth={1.2} dot={false} isAnimationActive={false} />
          <Line yAxisId="det" dataKey="det" type="linear" stroke={GREEN} strokeWidth={1.2} dot={false} isAnimationActive={false} />
          <Line yAxisId="ph" dataKey="phase" type="linear" stroke={RED} strokeWidth={1.2} dot={false} isAnimationActive={false} />
        </LineChart>
      </div>

      {/* Beam energy */}
      <div style={{ position: "absolute", left: 1179, top: 536 }}>
        <LineChart width={937} height={272} data={rfRows} margin={{ top: 40, right: 0, bottom: 0, left: 100 }}>
          <XAxis type="number" dataKey="t" domain={[-3, 63]} ticks={minTicks} allowDataOverflow interval={0} height={50}
            axisLine={false} tickSize={6} tickMargin={9} tickLine={{ stroke: "#000", strokeWidth: 1.5 }}
            tick={serifTick(29, "#000", fmt(0), "0.71em")} />
          <YAxis orientation="right" type="number" domain={[21.1355, 21.1464]} ticks={energyTicks} allowDataOverflow
            interval={0} width={150} axisLine={false} tickSize={6} tickMargin={8}
            tickLine={{ stroke: "#000", strokeWidth: 1.5 }} tick={serifTick(29, "#000", fmt(3), "0.355em")} />
          <Line dataKey="energy" type="linear" stroke="#111" strokeWidth={5} strokeLinejoin="round" dot={false}
            isAnimationActive={false} />
        </LineChart>
      </div>

      <svg width={2323} height={838} style={{ position: "absolute", left: 0, top: 0, pointerEvents: "none" }}>
        <defs>
          <linearGradient id="arrowR" gradientUnits="userSpaceOnUse" x1={941} y1={0} x2={1177} y2={0}>
            <stop offset="0" stopColor="#c6c6c6" />
            <stop offset="1" stopColor="#24375f" />
          </linearGradient>
          <linearGradient id="arrowC" gradientUnits="userSpaceOnUse" x1={2290} y1={440} x2={2150} y2={705}>
            <stop offset="0" stopColor="#d6d6d6" />
            <stop offset="0.45" stopColor="#a9adb6" />
            <stop offset="1" stopColor="#2b3a5f" />
          </linearGradient>
        </defs>

        {/* frames */}
        <rect x={126} y={59.5} width={891} height={334.5} fill="none" stroke="#000" strokeWidth={3} />
        <rect x={126} y={417} width={891} height={335} fill="none" stroke="#000" strokeWidth={3} />
        <rect x={425} y={166} width={499} height={182} fill="none" stroke="#000" strokeWidth={3} />
        <rect x={424} y={525} width={500} height={180} fill="none" stroke="#000" strokeWidth={3} />
        <path d="M 1967 62 L 1279 62 L 1279 501 L 1967 501" fill="none" stroke="#000" strokeWidth={2.5} />
        <rect x={1279} y={576} width={687} height={182} fill="none" stroke="#000" strokeWidth={2.5} />

        {/* titles */}
        <rect x={408} y={0} width={289} height={63} fill="#fff" />
        <text x={551} y={41} textAnchor="middle" fontSize={40} fontWeight="bold" fontFamily={SANS} fill={TITLE}
          textLength={244} lengthAdjust="spacingAndGlyphs">Pulse shape</text>
        <rect x={1330} y={0} width={603} height={64} fill="#fff" />
        <text x={1631} y={42} textAnchor="middle" fontSize={41} fontWeight="bold" fontFamily={SANS} fill={TITLE}
          textLength={570} lengthAdjust="spacingAndGlyphs">RF Stability (Pulse-to-pulse)</text>

        {/* legend */}
        <rect x={861} y={73} width={142} height={49} rx={6} fill="#fff" stroke="#cccccc" strokeWidth={1.5} />
        <line x1={871} y1={95.5} x2={931} y2={95.5} stroke="#000" strokeWidth={2} strokeDasharray="6 3" />
        <text x={954} y={106} fontSize={28} fontFamily={SERIF} fill="#000">Set</text>

        {/* axis titles */}
        <VText x={28.5} y={226.5} len={233} size={32}>Gradient [MV/m]</VText>
        <VText x={45} y={585.5} len={155} size={32}>Phase [deg]</VText>
        <text x={571} y={828} textAnchor="middle" fontSize={32} fontFamily={SERIF} textLength={144}
          lengthAdjust="spacingAndGlyphs">Time [ms]</text>
        <VText x={1187} y={282} len={115} size={32} fill={RED}>Δθ [deg]</VText>
        <VText x={2074} y={282.5} len={139} size={33} fill={BLUE}>ΔA/A [%]</VText>
        <VText x={2190} y={282.5} len={339} size={32} fill={GREEN}>Measured Detuning [Hz]</VText>
        <VText x={2087} y={667.5} len={195} size={33}>Energy [MeV]</VText>
        <text x={1595} y={830} textAnchor="middle" fontSize={32} fontFamily={SERIF} textLength={157}
          lengthAdjust="spacingAndGlyphs">Time [min]</text>

        {/* trace labels */}
        <text x={1744.5} y={207} fontSize={29} fontFamily={SANS} fill={BLUE} textLength={63.5} lengthAdjust="spacingAndGlyphs">Amp</text>
        <text x={1744.5} y={343} fontSize={29} fontFamily={SANS} fill="#5c9b45" textLength={126.5} lengthAdjust="spacingAndGlyphs">Detuning</text>
        <text x={1746} y={482} fontSize={29} fontFamily={SANS} fill={RED} textLength={88.5} lengthAdjust="spacingAndGlyphs">Phase</text>

        {/* beam energy label */}
        <rect x={1415} y={535} width={488} height={64} fill="#efefef" fillOpacity={0.85} />
        <text x={1658} y={580} textAnchor="middle" fontSize={35} fontFamily={SANS} fill="#222" textLength={417}
          lengthAdjust="spacingAndGlyphs">Beam Energy Fluctuation</text>

        {/* arrows */}
        <polygon points="941.7,385 1111.7,385 1111.7,360 1176.7,409 1111.7,457.3 1111.7,432.7 941.7,432.7" fill="url(#arrowR)" />
        <path d="M 2228 401 C 2290 425, 2316 480, 2299 560 C 2287 622, 2232 680, 2150 700" fill="none"
          stroke="url(#arrowC)" strokeWidth={42} />
        <polygon points="2165,650 2128,754 2104,697" fill="#2b3a5f" />

        {/* pulse-to-pulse brace */}
        <path d="M 931 587 Q 942 587 942 598 L 942 614 Q 942 626 952 626 Q 942 626 942 638 L 942 654 Q 942 665 931 665"
          fill="none" stroke="#c5661d" strokeWidth={2.5} />
        <text x={977} y={637} fontSize={34} fontFamily={SANS} fill="#c5661d" textLength={275}
          lengthAdjust="spacingAndGlyphs">Pulse-to-pulse</text>
      </svg>
    </div>
  );
}
